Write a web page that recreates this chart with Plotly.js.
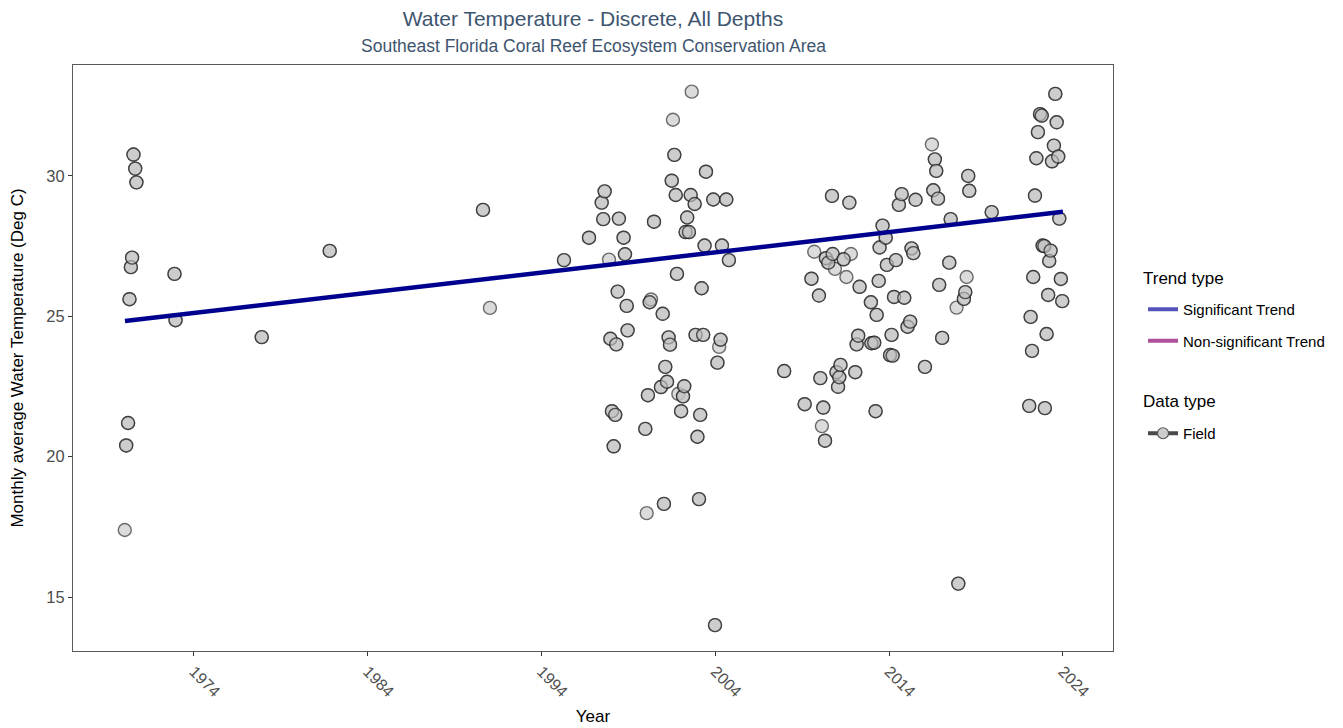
<!DOCTYPE html>
<html>
<head>
<meta charset="utf-8">
<script src="https://cdn.plot.ly/plotly-3.0.1.min.js"></script>
<style>html,body{margin:0;padding:0;background:#fff;}#chart{width:1343px;height:728px;}</style>
</head>
<body>
<div id="chart"></div>
<script>
// ---- Data (decimal year, monthly average temperature, deg C) ----
var obsYears = [
1970.02,1970.10,1970.21,1970.29,1970.37,1970.44,1970.52,1970.62,1970.69,1972.88,
1972.94,1977.90,1981.81,1990.63,1991.03,1995.29,1996.73,1997.46,1997.55,1997.63,
1997.88,1997.96,1998.05,1998.15,1998.24,1998.30,1998.38,1998.45,1998.72,1998.80,
1998.90,1998.95,1999.97,2000.05,2000.12,2000.22,2000.30,2000.47,2000.87,2000.97,
2001.04,2001.12,2001.22,2001.31,2001.39,2001.49,2001.56,2001.64,2001.72,2001.79,
2001.87,2002.03,2002.14,2002.21,2002.29,2002.38,2002.48,2002.58,2002.64,2002.81,
2002.86,2002.97,2003.06,2003.13,2003.21,2003.30,2003.38,2003.46,2003.88,2003.98,
2004.12,2004.22,2004.30,2004.38,2004.63,2004.78,2007.96,2009.14,2009.53,2009.69,
2009.96,2010.04,2010.13,2010.21,2010.31,2010.36,2010.50,2010.71,2010.75,2010.88,
2010.97,2011.06,2011.13,2011.20,2011.38,2011.54,2011.71,2011.80,2012.05,2012.13,
2012.22,2012.30,2012.95,2012.98,2013.14,2013.22,2013.28,2013.40,2013.45,2013.62,
2013.80,2013.87,2014.05,2014.14,2014.20,2014.28,2014.39,2014.56,2014.72,2014.87,
2015.06,2015.21,2015.29,2015.39,2015.52,2016.06,2016.46,2016.54,2016.63,2016.71,
2016.81,2016.88,2017.05,2017.46,2017.54,2017.88,2017.98,2018.30,2018.38,2018.46,
2018.55,2018.61,2019.90,2022.06,2022.14,2022.22,2022.29,2022.39,2022.47,2022.56,
2022.68,2022.78,2022.83,2022.93,2022.96,2023.06,2023.15,2023.21,2023.29,2023.37,
2023.48,2023.56,2023.64,2023.73,2023.79,2023.88,2023.96
];
var obsTemps = [
17.39,20.40,21.20,25.61,26.75,27.09,30.76,30.26,29.77,26.51,
24.86,24.26,27.33,28.79,25.30,27.00,27.80,29.05,28.46,29.45,
27.02,24.20,21.62,20.37,21.49,24.00,25.88,28.48,27.80,27.21,
25.37,24.50,20.99,17.99,22.19,25.50,25.60,28.37,22.48,25.09,
18.32,23.20,22.67,24.25,23.99,29.83,32.00,30.75,29.32,26.51,
22.24,21.62,22.15,22.51,28.00,28.52,28.00,29.32,33.00,29.00,
24.34,20.71,18.49,21.49,26.00,24.34,27.52,30.15,29.16,14.00,
23.35,23.91,24.17,27.52,29.16,27.00,23.05,21.87,26.34,27.30,
25.74,22.80,21.09,21.75,20.57,27.07,26.91,29.29,27.22,26.69,
23.01,22.49,22.83,23.27,27.03,26.40,29.05,27.22,23.01,24.00,
24.31,26.05,25.50,24.04,24.06,21.62,25.05,26.26,27.45,28.23,
27.80,26.83,23.62,24.34,23.60,25.69,27.00,28.97,29.35,25.66,
24.63,24.81,27.42,27.25,29.15,23.20,31.12,29.49,30.59,30.18,
29.19,26.12,24.23,26.91,28.46,25.31,15.48,25.62,25.86,26.40,
30.00,29.47,28.71,21.81,24.98,23.77,26.40,29.30,30.63,31.56,
32.20,32.15,27.52,27.50,21.73,24.37,25.76,26.97,27.34,30.52,
31.08,32.92,31.91,30.69,28.48,26.33,25.54
];
// number of overlapping observations drawn at each point (1 = single, 2 = stacked)
var obsCount = [
1,2,2,2,2,2,2,2,2,2,
2,2,2,2,1,2,2,2,2,2,
1,2,2,2,2,2,2,2,2,2,
2,2,2,1,2,2,1,2,2,2,
2,2,2,2,2,2,1,2,2,2,
1,2,2,2,2,2,2,2,1,2,
2,2,2,2,2,2,2,2,2,2,
2,1,2,2,2,2,2,2,2,1,
2,2,1,2,2,2,2,2,2,1,
2,2,2,2,2,1,2,1,2,2,
2,2,2,2,2,2,2,2,2,2,
2,2,2,2,2,2,2,2,2,2,
2,2,2,2,2,2,1,2,2,2,
2,2,2,2,2,1,2,2,2,1,
2,2,2,2,2,2,2,2,2,2,
2,2,2,2,2,2,2,2,2,2,
2,2,2,2,2,2,2
];
// fitted trend line end points
var trendYears = [1970.03, 2024.0];
var trendTemps = [24.83, 28.72];
// axis ticks
var xTickVals = [1974, 1984, 1994, 2004, 2014, 2024];
var xTickText = ['1974', '1984', '1994', '2004', '2014', '2024'];
var yTickVals = [15, 20, 25, 30];
var yTickText = ['15', '20', '25', '30'];

// ---- Build traces ----
var stackX = [], stackY = [];
for (var i = 0; i < obsYears.length; i++) {
  if (obsCount[i] > 1) { stackX.push(obsYears[i]); stackY.push(obsTemps[i]); }
}
var pointMarker = {
  symbol: 'circle', size: 13,
  color: 'rgba(195,195,195,0.6)',
  line: {color: 'rgba(20,20,20,0.6)', width: 1.4}
};
var FONT = 'Liberation Sans, Arial, sans-serif';
var PX = function (py) { return (651 - py) / 586; };   // helper for paper y
var PXX = function (px) { return (px - 73) / 1040; };  // helper for paper x

var traces = [
  {x: obsYears, y: obsTemps, type: 'scatter', mode: 'markers', marker: pointMarker,
   showlegend: false, hoverinfo: 'x+y'},
  {x: stackX, y: stackY, type: 'scatter', mode: 'markers', marker: pointMarker,
   showlegend: false, hoverinfo: 'skip'},
  {x: trendYears, y: trendTemps, type: 'scatter', mode: 'lines',
   line: {color: '#00008f', width: 4.5}, showlegend: false},
  // legend entries
  {x: [null], y: [null], type: 'scatter', mode: 'lines', name: 'Significant Trend',
   line: {color: 'rgba(40,40,170,0.8)', width: 4}, legend: 'legend', legendgroup: 'sig'},
  {x: [null], y: [null], type: 'scatter', mode: 'lines', name: 'Non-significant Trend',
   line: {color: 'rgba(160,50,140,0.85)', width: 4}, legend: 'legend', legendgroup: 'nonsig'},
  {x: [null], y: [null], type: 'scatter', mode: 'lines+markers', name: 'Field',
   line: {color: '#4a4a4a', width: 4},
   marker: {symbol: 'circle', size: 11, color: '#cccccc', line: {color: '#555555', width: 1.2}},
   legend: 'legend2', legendgroup: 'field'}
];

var layout = {
  width: 1343, height: 728,
  margin: {l: 73, r: 230, t: 65, b: 77},
  paper_bgcolor: '#ffffff', plot_bgcolor: '#ffffff',
  font: {family: FONT, color: '#000000'},
  title: {
    text: 'Water Temperature - Discrete, All Depths',
    font: {family: FONT, size: 21, color: '#3e5570'},
    x: 0.5, xref: 'paper', xanchor: 'center',
    y: 1 - 19 / 728, yref: 'container', yanchor: 'middle'
  },
  annotations: [
    {text: 'Southeast Florida Coral Reef Ecosystem Conservation Area',
     font: {family: FONT, size: 17.5, color: '#3e5570'},
     xref: 'paper', yref: 'paper', x: 0.5, y: PX(46),
     xanchor: 'center', yanchor: 'middle', showarrow: false},
    {text: 'Trend type', font: {family: FONT, size: 17, color: '#000000'},
     xref: 'paper', yref: 'paper', x: PXX(1141), y: PX(278),
     xanchor: 'left', yanchor: 'middle', showarrow: false},
    {text: 'Data type', font: {family: FONT, size: 17, color: '#000000'},
     xref: 'paper', yref: 'paper', x: PXX(1141), y: PX(401),
     xanchor: 'left', yanchor: 'middle', showarrow: false}
  ],
  xaxis: {
    range: [1967.04, 2026.88],
    tickmode: 'array', tickvals: xTickVals, ticktext: xTickText,
    tickangle: 45,
    ticks: 'outside', ticklen: 4, tickwidth: 1, tickcolor: '#333333',
    tickfont: {family: FONT, size: 16, color: '#4d4d4d'},
    showline: true, mirror: true, linecolor: '#5a5a5a', linewidth: 1,
    showgrid: false, zeroline: false,
    title: {text: 'Year', font: {family: FONT, size: 17, color: '#000000'}, standoff: 10}
  },
  yaxis: {
    range: [13.08, 33.95],
    tickmode: 'array', tickvals: yTickVals, ticktext: yTickText,
    ticks: 'outside', ticklen: 4, tickwidth: 1, tickcolor: '#333333',
    tickfont: {family: FONT, size: 16.5, color: '#4d4d4d'},
    showline: true, mirror: true, linecolor: '#5a5a5a', linewidth: 1,
    showgrid: false, zeroline: false,
    title: {text: 'Monthly average Water Temperature (Deg C)',
            font: {family: FONT, size: 17, color: '#000000'}, standoff: 18}
  },
  legend: {
    font: {family: FONT, size: 15, color: '#000000'},
    x: PXX(1143), xanchor: 'left', y: PX(293), yanchor: 'top',
    tracegroupgap: 9, bgcolor: 'rgba(0,0,0,0)', itemwidth: 30
  },
  legend2: {
    font: {family: FONT, size: 15, color: '#000000'},
    x: PXX(1143), xanchor: 'left', y: PX(417), yanchor: 'top',
    bgcolor: 'rgba(0,0,0,0)', itemwidth: 30
  }
};

Plotly.newPlot('chart', traces, layout, {displayModeBar: false, responsive: false});
</script>
</body>
</html>
